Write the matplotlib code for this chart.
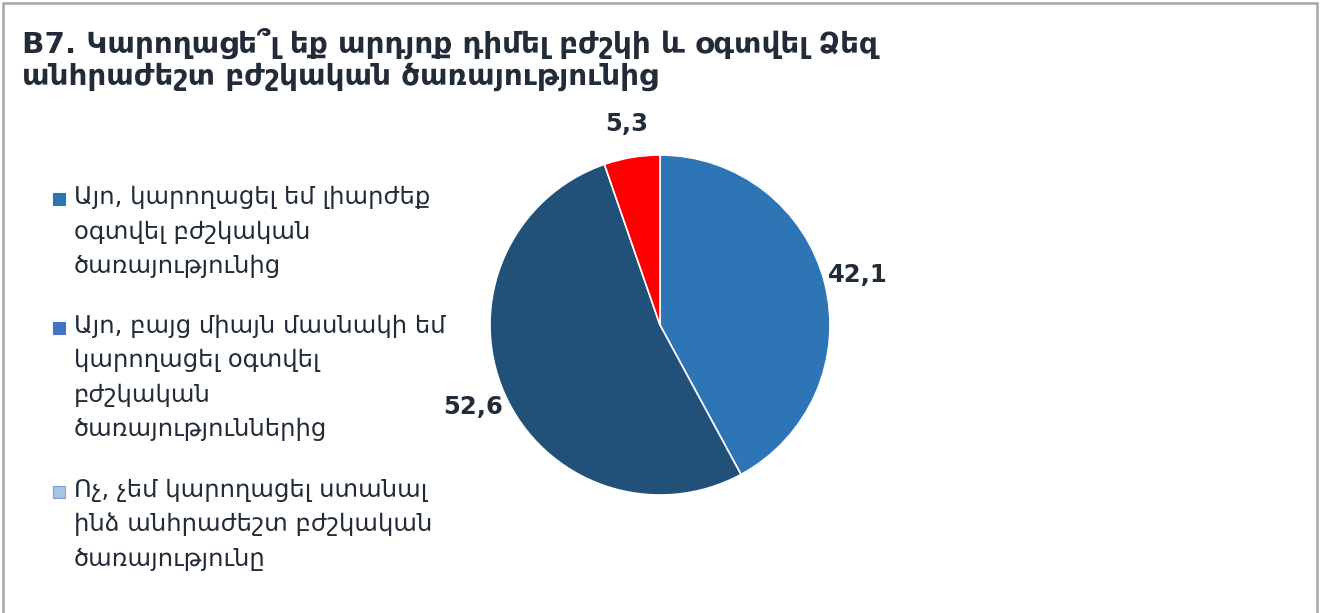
import matplotlib
matplotlib.use("Agg")
import matplotlib.pyplot as plt
from matplotlib.patches import Rectangle

plt.rcParams['font.family'] = ['DejaVu Sans']

title = "B7. Կարողացե՞լ եք արդյոք դիմել բժշկի և օգտվել Ձեզ\nանհրաժեշտ բժշկական ծառայությունից"
categories = [
    "Այո, կարողացել եմ լիարժեք\nօգտվել բժշկական\nծառայությունից",
    "Այո, բայց միայն մասնակի եմ\nկարողացել օգտվել\nբժշկական\nծառայություններից",
    "Ոչ, չեմ կարողացել ստանալ\nինձ անհրաժեշտ բժշկական\nծառայությունը",
]
values = [42.1, 52.6, 5.3]
slice_colors = ["#2E75B6", "#215079", "#FF0000"]
legend_colors = ["#2E75B6", "#4472C4", "#A9C4E8"]

W, H = 1340, 613
fig = plt.figure(figsize=(W / 100, H / 100), dpi=100)
fig.patch.set_facecolor("white")

# outer frame
fig.patches.append(Rectangle((3 / W, -0.05), 1314 / W, 1.05 - 3 / H, transform=fig.transFigure,
                             fill=False, edgecolor="#A6A6A6", linewidth=1.8))

fig.text(22 / W, 1 - 28 / H, title, ha="left", va="top", fontsize=21.2, fontweight="bold",
         color="#222B38", linespacing=1.16)

# pie
cx, cy, r = 660, 325, 170
ax = fig.add_axes([(cx - r) / W, (H - cy - r) / H, 2 * r / W, 2 * r / H])
labels = [f"{v:.1f}".replace(".", ",") for v in values]
wedges, texts = ax.pie(values, colors=slice_colors, startangle=90, counterclock=False,
                       labels=labels, labeldistance=1.2,
                       wedgeprops=dict(edgecolor="white", linewidth=1.2),
                       textprops=dict(fontsize=17.5, fontweight="bold", color="#222B38"))
for t in texts:
    t.set_ha("center")
    t.set_va("center")
ax.set_xlim(-1, 1)
ax.set_ylim(-1, 1)
ax.set_aspect("equal")
ax.axis("off")

# legend drawn manually so the marker sits on the first line
line_h = 35.5
y = 199
for lab, col in zip(categories, legend_colors):
    fig.patches.append(Rectangle((53 / W, 1 - (y + 6) / H), 12 / W, 12 / H, transform=fig.transFigure,
                                 facecolor=col, edgecolor="#7F9FCF" if col == "#A9C4E8" else col,
                                 linewidth=0.8))
    fig.text(74 / W, 1 - (y - 14) / H, lab, ha="left", va="top", fontsize=17.5,
             color="#222B38", linespacing=1.56)
    y += line_h * (lab.count("\n") + 1) + 22

fig.savefig("out.png", dpi=100)
